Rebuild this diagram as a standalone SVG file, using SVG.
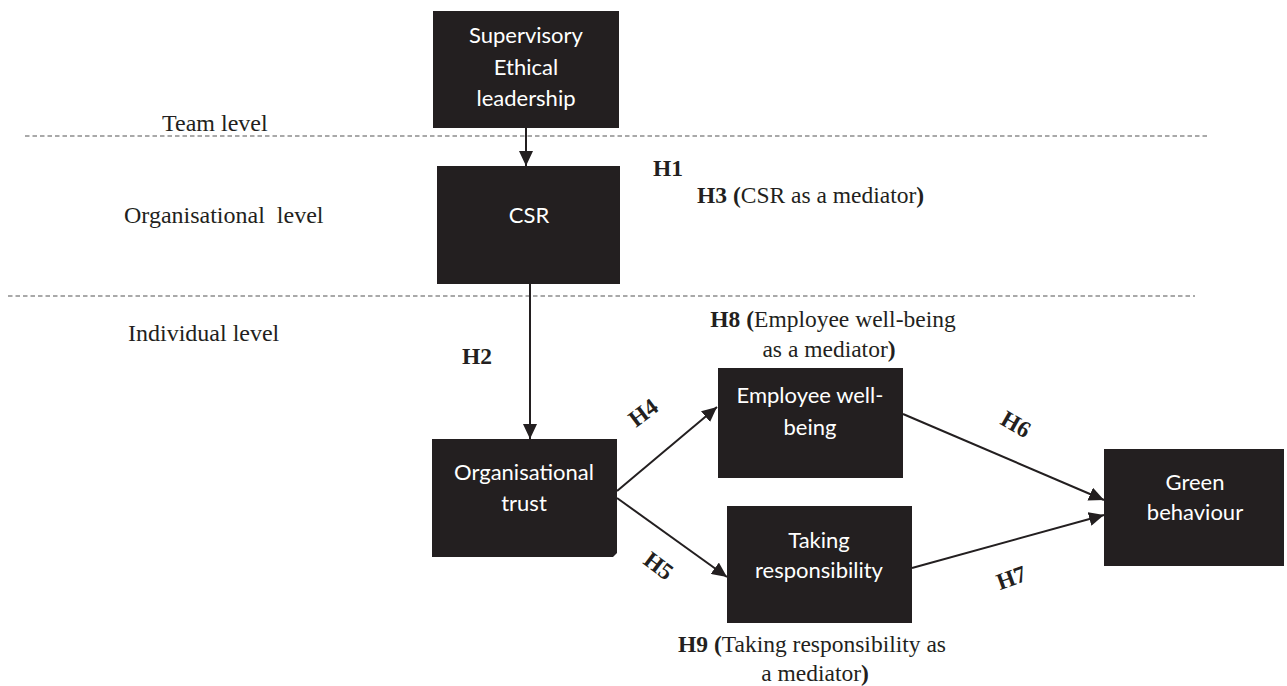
<svg xmlns="http://www.w3.org/2000/svg" width="1287" height="686" viewBox="0 0 1287 686">
<style>
.box{fill:#231f20;}
.bt{fill:#ffffff;font-family:Lato,"Open Sans",sans-serif;font-size:22px;text-anchor:middle;}
.lv{fill:#231f20;font-family:"Liberation Serif",serif;font-size:24px;}
.h{fill:#231f20;font-family:"Liberation Serif",serif;font-size:23.5px;}
.hb{font-weight:bold;}
.dash{stroke:#555;stroke-width:1.2;stroke-dasharray:4.5 3;fill:none;}
.conn{stroke:#231f20;stroke-width:2;fill:none;marker-end:url(#ah);}
</style>
<defs>
<marker id="ah" markerUnits="userSpaceOnUse" markerWidth="16" markerHeight="14" refX="15" refY="7" orient="auto">
<path d="M0,0 L15,7 L0,14 Z" fill="#231f20"/>
</marker>
</defs>
<rect width="1287" height="686" fill="#ffffff"/>
<g id="levels">
<line class="dash" x1="25" y1="136" x2="1210" y2="136"/>
<line class="dash" x1="8" y1="296" x2="1195" y2="296"/>
<text class="lv" x="162" y="131">Team level</text>
<text class="lv" x="124" y="223" xml:space="preserve">Organisational  level</text>
<text class="lv" x="128" y="341">Individual level</text>
</g>
<g id="connectors">
<line class="conn" x1="526" y1="128" x2="526" y2="166"/>
<line class="conn" x1="530" y1="284" x2="530" y2="439"/>
<line class="conn" x1="617" y1="491" x2="717" y2="407"/>
<line class="conn" x1="617" y1="498" x2="727" y2="577"/>
<line class="conn" x1="903" y1="414" x2="1104" y2="500"/>
<line class="conn" x1="912" y1="568" x2="1104" y2="515"/>
</g>
<g id="sel">
<rect class="box" x="433" y="11" width="186" height="117"/>
<text class="bt" x="526" y="43">Supervisory</text>
<text class="bt" x="526" y="75">Ethical</text>
<text class="bt" x="526" y="106">leadership</text>
</g>
<g id="csr">
<rect class="box" x="437" y="166" width="183" height="118"/>
<text class="bt" x="529" y="223">CSR</text>
</g>
<g id="trust">
<path class="box" d="M432,439 H617 V553 L613,557 H432 Z"/>
<text class="bt" x="524" y="480">Organisational</text>
<text class="bt" x="524" y="511">trust</text>
</g>
<g id="wellbeing">
<rect class="box" x="718" y="368" width="185" height="110"/>
<text class="bt" x="810" y="403">Employee well-</text>
<text class="bt" x="810" y="435">being</text>
</g>
<g id="responsibility">
<rect class="box" x="727" y="506" width="185" height="117"/>
<text class="bt" x="819" y="548">Taking</text>
<text class="bt" x="819" y="578">responsibility</text>
</g>
<g id="green">
<rect class="box" x="1104" y="449" width="180" height="117"/>
<text class="bt" x="1195" y="490">Green</text>
<text class="bt" x="1195" y="520">behaviour</text>
</g>
<g id="labels">
<text class="h hb" x="653" y="176">H1</text>
<text class="h" x="697" y="203"><tspan class="hb">H3 (</tspan>CSR as a mediator<tspan class="hb">)</tspan></text>
<text class="h hb" x="462" y="364">H2</text>
<text class="h" x="833" y="327" text-anchor="middle"><tspan class="hb">H8 (</tspan>Employee well-being</text>
<text class="h" x="829" y="357" text-anchor="middle">as a mediator<tspan class="hb">)</tspan></text>
<text class="h" x="812" y="652" text-anchor="middle"><tspan class="hb">H9 (</tspan>Taking responsibility as</text>
<text class="h" x="815" y="681" text-anchor="middle">a mediator<tspan class="hb">)</tspan></text>
<text class="h hb" text-anchor="middle" transform="translate(648,419) rotate(-37)">H4</text>
<text class="h hb" text-anchor="middle" transform="translate(654,572) rotate(37)">H5</text>
<text class="h hb" text-anchor="middle" transform="translate(1012,431) rotate(30)">H6</text>
<text class="h hb" text-anchor="middle" transform="translate(1014,585) rotate(-20)">H7</text>
</g>
</svg>
